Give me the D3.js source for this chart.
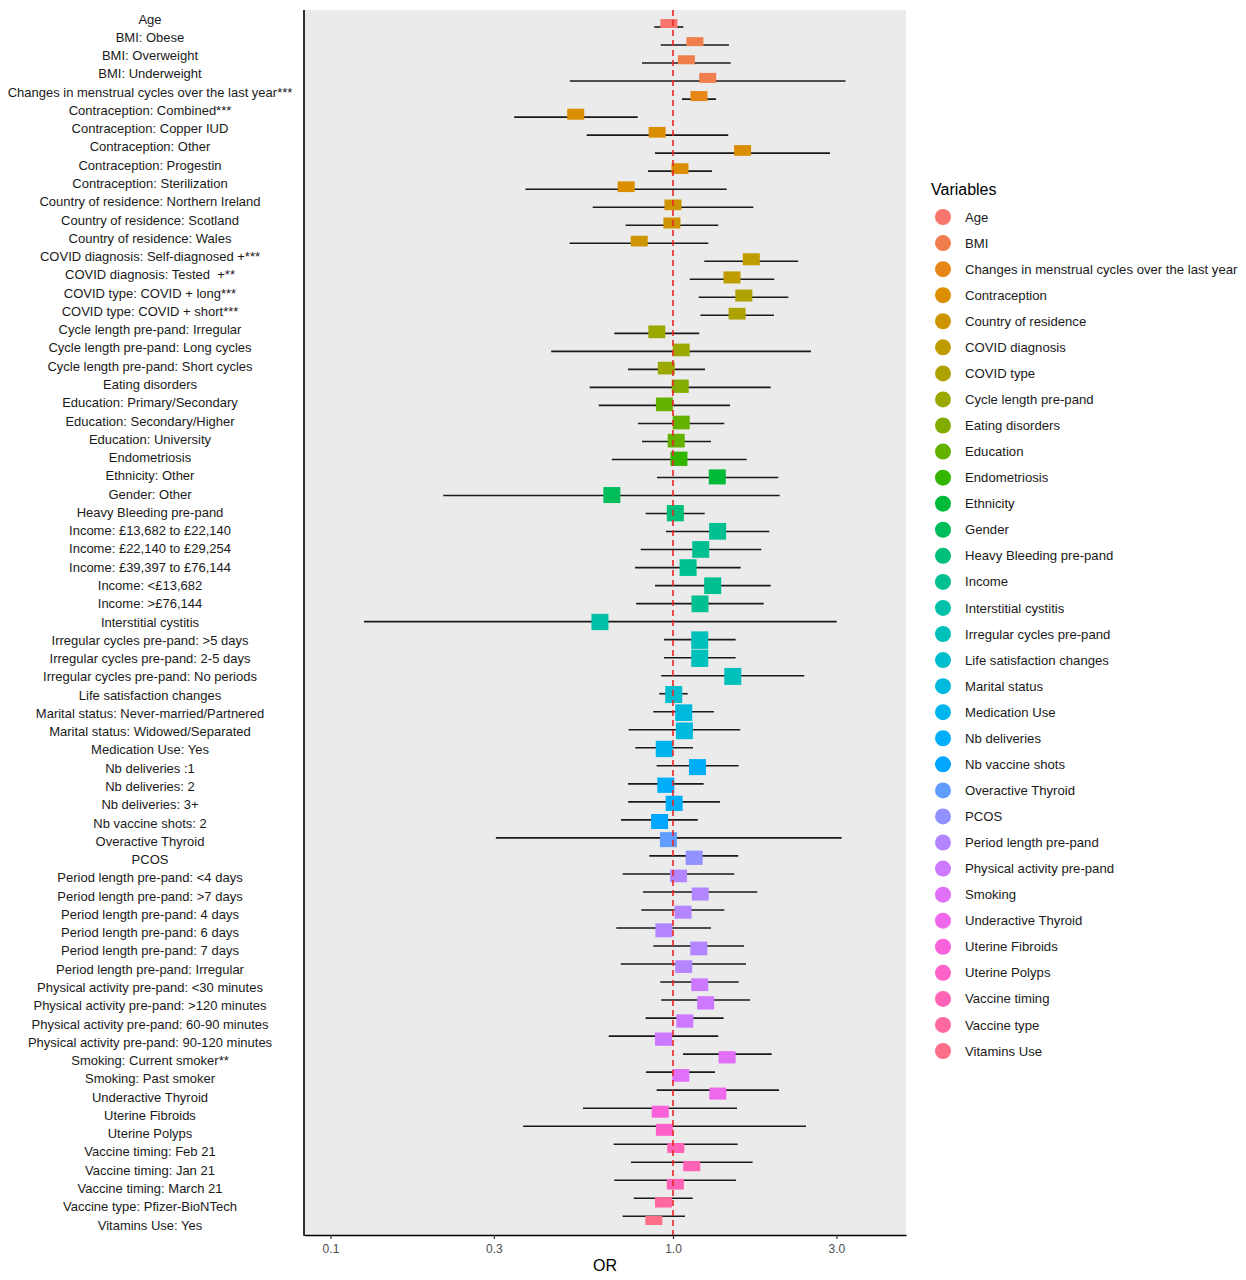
<!DOCTYPE html>
<html><head><meta charset="utf-8">
<script src="https://cdn.jsdelivr.net/npm/d3@7"></script>
<style>body{margin:0;background:#fff;} svg{display:block;font-family:"Liberation Sans",Arial,sans-serif;} text{white-space:pre;}</style>
</head><body><svg id="chart" width="1246" height="1280"></svg>
<script>
const labels = ["Age","BMI: Obese","BMI: Overweight","BMI: Underweight","Changes in menstrual cycles over the last year***","Contraception: Combined***","Contraception: Copper IUD","Contraception: Other","Contraception: Progestin","Contraception: Sterilization","Country of residence: Northern Ireland","Country of residence: Scotland","Country of residence: Wales","COVID diagnosis: Self-diagnosed +***","COVID diagnosis: Tested  +**","COVID type: COVID + long***","COVID type: COVID + short***","Cycle length pre-pand: Irregular","Cycle length pre-pand: Long cycles","Cycle length pre-pand: Short cycles","Eating disorders","Education: Primary/Secondary","Education: Secondary/Higher","Education: University","Endometriosis","Ethnicity: Other","Gender: Other","Heavy Bleeding pre-pand","Income: £13,682 to £22,140","Income: £22,140 to £29,254","Income: £39,397 to £76,144","Income: <£13,682","Income: >£76,144","Interstitial cystitis","Irregular cycles pre-pand: >5 days","Irregular cycles pre-pand: 2-5 days","Irregular cycles pre-pand: No periods","Life satisfaction changes","Marital status: Never-married/Partnered","Marital status: Widowed/Separated","Medication Use: Yes","Nb deliveries :1","Nb deliveries: 2","Nb deliveries: 3+","Nb vaccine shots: 2","Overactive Thyroid","PCOS","Period length pre-pand: <4 days","Period length pre-pand: >7 days","Period length pre-pand: 4 days","Period length pre-pand: 6 days","Period length pre-pand: 7 days","Period length pre-pand: Irregular","Physical activity pre-pand: <30 minutes","Physical activity pre-pand: >120 minutes","Physical activity pre-pand: 60-90 minutes","Physical activity pre-pand: 90-120 minutes","Smoking: Current smoker**","Smoking: Past smoker","Underactive Thyroid","Uterine Fibroids","Uterine Polyps","Vaccine timing: Feb 21","Vaccine timing: Jan 21","Vaccine timing: March 21","Vaccine type: Pfizer-BioNTech","Vitamins Use: Yes"];

const variables = ["Age","BMI","Changes in menstrual cycles over the last year","Contraception","Country of residence","COVID diagnosis","COVID type","Cycle length pre-pand","Eating disorders","Education","Endometriosis","Ethnicity","Gender","Heavy Bleeding pre-pand","Income","Interstitial cystitis","Irregular cycles pre-pand","Life satisfaction changes","Marital status","Medication Use","Nb deliveries","Nb vaccine shots","Overactive Thyroid","PCOS","Period length pre-pand","Physical activity pre-pand","Smoking","Underactive Thyroid","Uterine Fibroids","Uterine Polyps","Vaccine timing","Vaccine type","Vitamins Use"];

// variable group of each row (index into variables)
const rowVariable = [0,1,1,1,2,3,3,3,3,3,4,4,4,5,5,6,6,7,7,7,8,9,9,9,10,11,12,13,14,14,14,14,14,15,16,16,16,17,18,18,19,20,20,20,21,22,23,24,24,24,24,24,24,25,25,25,25,26,26,27,28,29,30,30,30,31,32];

const orValue = [0.973,1.159,1.094,1.263,1.191,0.520,0.899,1.597,1.048,0.730,1.000,0.993,0.797,1.693,1.487,1.610,1.539,0.897,1.057,0.956,1.050,0.944,1.057,1.022,1.041,1.347,0.663,1.016,1.350,1.205,1.107,1.306,1.199,0.612,1.197,1.197,1.495,1.005,1.075,1.080,0.943,1.179,0.953,1.008,0.914,0.970,1.153,1.038,1.201,1.070,0.941,1.190,1.075,1.197,1.246,1.083,0.938,1.439,1.054,1.352,0.918,0.944,1.019,1.134,1.016,0.938,0.879];

const ciLow = [0.882,0.921,0.812,0.500,1.062,0.344,0.560,0.886,0.845,0.371,0.583,0.727,0.499,1.234,1.119,1.189,1.202,0.674,0.441,0.739,0.571,0.607,0.790,0.812,0.663,0.898,0.2135,0.832,0.954,0.805,0.775,0.886,0.781,0.1253,0.941,0.941,0.924,0.912,0.876,0.742,0.776,0.896,0.739,0.740,0.705,0.304,0.853,0.713,0.817,0.808,0.683,0.876,0.704,0.918,0.924,0.832,0.649,1.070,0.834,0.896,0.546,0.365,0.671,0.754,0.674,0.768,0.713];

const ciHigh = [1.072,1.457,1.474,3.19,1.335,0.789,1.45,2.873,1.30,1.435,1.716,1.356,1.268,2.32,1.976,2.171,1.972,1.193,2.528,1.240,1.929,1.467,1.412,1.291,1.641,2.03,2.049,1.238,1.911,1.811,1.576,1.929,1.840,3.006,1.524,1.524,2.417,1.104,1.317,1.572,1.144,1.555,1.229,1.371,1.181,3.108,1.551,1.510,1.762,1.412,1.291,1.612,1.634,1.555,1.678,1.406,1.356,1.942,1.326,2.040,1.538,2.445,1.545,1.708,1.527,1.142,1.084];

// relative weight of each estimate (drives box height)
const weight = [9,9,9,10,10,11,10.7,10.7,10.7,10.7,10.7,11,10.7,12,12,12,11.7,12.7,12.7,12.7,13.3,13.7,13.7,13.7,14.3,15,16,16.3,16.7,16.7,16.7,16.7,16.7,16.3,17.5,17.3,17,17,16.7,16.7,16.3,16,15.3,15.3,15,15,14.3,12.7,13,13,14,13.7,12.7,12.7,13.3,13.3,13.3,12.3,12.7,12,12,12,10,10.3,10.7,10.3,9];

const xTicks = [0.1, 0.3, 1.0, 3.0];
const xDomain = [0.0837, 4.79];

// ggplot2 hue palette (polar LUV, c=100, l=65)
function hclR(h, c, l) {
  const Xn = 95.047, Yn = 100, Zn = 108.883;
  const hr = h * Math.PI / 180;
  const U = c * Math.cos(hr), V = c * Math.sin(hr);
  const Y = Yn * (l > 8 ? Math.pow((l + 16) / 116, 3) : l / 903.3);
  const den = Xn + 15 * Yn + 3 * Zn;
  const un = 4 * Xn / den, vn = 9 * Yn / den;
  const up = U / (13 * l) + un, vp = V / (13 * l) + vn;
  const X = 9 * Y * up / (4 * vp);
  const Z = -X / 3 - 5 * Y + 3 * Y / vp;
  const x = X / 100, y = Y / 100, z = Z / 100;
  const lin = [
    3.240479 * x - 1.537150 * y - 0.498535 * z,
    -0.969256 * x + 1.875992 * y + 0.041556 * z,
    0.055648 * x - 0.204043 * y + 1.057311 * z];
  const g = lin.map(v => { v = v <= 0.0031308 ? 12.92 * v : 1.055 * Math.pow(v, 1 / 2.4) - 0.055; return Math.round(255 * Math.max(0, Math.min(1, v))); });
  return d3.rgb(g[0], g[1], g[2]).formatHex();
}
const nV = variables.length;
const palette = variables.map((v, i) => hclR(15 + i * 360 / nV, 100, 65));
const color = d3.scaleOrdinal().domain(variables).range(palette);

const svg = d3.select("#chart");
const P = {left: 304, right: 906, top: 10, bottom: 1235};

const x = d3.scaleLog().domain(xDomain).range([P.left, P.right]);
const idx = d3.range(labels.length);
const yLabel = d3.scalePoint().domain(idx).range([19, 1225]);
const yLine = d3.scalePoint().domain(idx).range([27, 1216.3]);
const yBox = d3.scalePoint().domain(idx).range([23.5, 1220.5]);
const hBox = d3.scaleLinear().domain([0, 1]).range([0, 1]);

svg.append("rect").attr("x", P.left).attr("y", P.top).attr("width", P.right - P.left).attr("height", P.bottom - P.top).attr("fill", "#EBEBEB");

// row labels
svg.append("g").selectAll("text").data(idx).join("text")
  .attr("x", 150).attr("y", i => yLabel(i)).attr("dy", "0.35em")
  .attr("text-anchor", "middle").attr("font-size", 13).attr("fill", "#1a1a1a")
  .text(i => labels[i]);

// CI lines
svg.append("g").selectAll("line").data(idx).join("line")
  .attr("x1", i => x(ciLow[i])).attr("x2", i => x(ciHigh[i]))
  .attr("y1", i => yLine(i)).attr("y2", i => yLine(i))
  .attr("stroke", "#1a1a1a").attr("stroke-width", 1.6);

// boxes
const boxW = 17;
svg.append("g").selectAll("rect").data(idx).join("rect")
  .attr("x", i => x(orValue[i]) - boxW / 2)
  .attr("y", i => yBox(i) - hBox(weight[i]) / 2)
  .attr("width", boxW).attr("height", i => hBox(weight[i]))
  .attr("fill", i => color(variables[rowVariable[i]]));

// reference line
svg.append("line").attr("x1", x(1)).attr("x2", x(1)).attr("y1", P.top).attr("y2", P.bottom)
  .attr("stroke", "#E8262A").attr("stroke-width", 1.6).attr("stroke-dasharray", "6,4");

// axes
const xAxis = d3.axisBottom(x).tickValues(xTicks).tickFormat(d3.format(".1f")).tickSize(4).tickSizeOuter(0);
const gx = svg.append("g").attr("transform", `translate(0,${P.bottom})`).call(xAxis);
gx.select(".domain").attr("stroke", "#000").attr("stroke-width", 1.6);
gx.selectAll(".tick line").attr("stroke", "#333").attr("stroke-width", 1.2);
gx.selectAll(".tick text").attr("font-size", 12).attr("fill", "#4d4d4d").attr("dy", "0.9em")
  .attr("font-family", "Liberation Sans, Arial, sans-serif");
svg.append("line").attr("x1", P.left).attr("x2", P.left).attr("y1", P.top).attr("y2", P.bottom + 0.8)
  .attr("stroke", "#000").attr("stroke-width", 1.6);

svg.append("text").attr("x", (P.left + P.right) / 2).attr("y", 1271).attr("text-anchor", "middle")
  .attr("font-size", 16).attr("fill", "#000").text("OR");

// legend
const lg = svg.append("g");
lg.append("text").attr("x", 931).attr("y", 195).attr("font-size", 16).attr("fill", "#000").text("Variables");
const ly = d3.scalePoint().domain(variables).range([217, 1051]);
lg.selectAll("circle").data(variables).join("circle")
  .attr("cx", 943).attr("cy", d => ly(d)).attr("r", 8).attr("fill", d => color(d));
lg.selectAll("text.item").data(variables).join("text").attr("class", "item")
  .attr("x", 965).attr("y", d => ly(d)).attr("dy", "0.35em").attr("font-size", 13.15).attr("fill", "#1a1a1a")
  .text(d => d);
</script></body></html>
